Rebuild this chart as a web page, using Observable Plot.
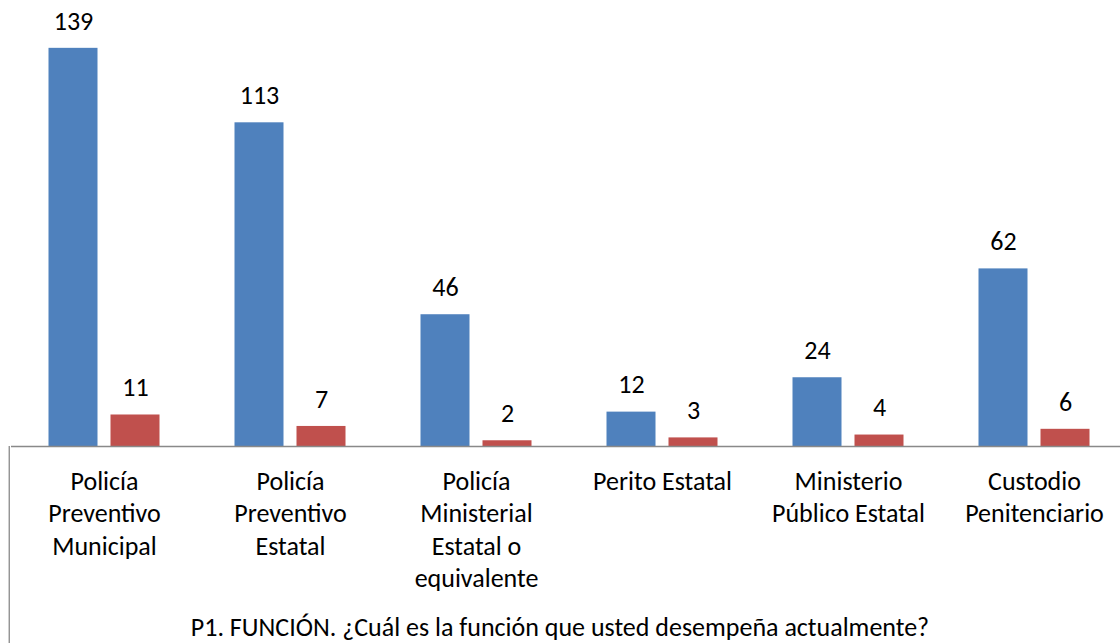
<!DOCTYPE html>
<html>
<head>
<meta charset="utf-8">
<script src="https://cdn.jsdelivr.net/npm/d3@7"></script>
<script src="https://cdn.jsdelivr.net/npm/@observablehq/plot@0.6"></script>
<style>
  html, body { margin: 0; padding: 0; background: #fff; }
  #chart svg { display: block; }
</style>
</head>
<body>
<div id="chart"></div>
<script>
const categories = [
  "Policía\nPreventivo\nMunicipal",
  "Policía\nPreventivo\nEstatal",
  "Policía\nMinisterial\nEstatal o\nequivalente",
  "Perito Estatal",
  "Ministerio\nPúblico Estatal",
  "Custodio\nPenitenciario"
];
const seriesNames = ["Serie 1", "Serie 2"];
const serie1 = [139, 113, 46, 12, 24, 62];
const serie2 = [11, 7, 2, 3, 4, 6];
const caption = "P1. FUNCIÓN. ¿Cuál es la función que usted desempeña actualmente?";

const data = [];
categories.forEach((c, i) => {
  data.push({cat: c, series: seriesNames[0], value: serie1[i]});
  data.push({cat: c, series: seriesNames[1], value: serie2[i]});
});

const W = 1120, H = 643;
const marginLeft = 8.5, marginRight = -8.5, marginTop = 2, marginBottom = 197;
const font = "Carlito, Calibri, Lato, sans-serif";
const fs = 26;

const chart = Plot.plot({
  width: W,
  height: H,
  marginLeft, marginRight, marginTop, marginBottom,
  style: {fontFamily: font, fontSize: fs + "px", color: "#000", background: "#fff", overflow: "visible"},
  fx: {domain: categories, padding: 0, axis: null},
  x: {domain: seriesNames, paddingInner: 0.208, paddingOuter: 0.596, axis: null},
  y: {domain: [0, 155], axis: null},
  color: {domain: seriesNames, range: ["#4F81BD", "#C0504D"]},
  marks: [
    Plot.barY(data, {fx: "cat", x: "series", y: "value", fill: "series"}),
    Plot.ruleY([0], {stroke: "#898989", strokeWidth: 1.3}),
    Plot.text(data, {fx: "cat", x: "series", y: "value", text: d => String(d.value), dy: -27, fill: "#000", fontSize: fs}),
    Plot.text(categories, {fx: d => d, text: d => d, frameAnchor: "bottom", lineAnchor: "top", dy: 20, lineHeight: 1.25, fill: "#000", fontSize: fs})
  ]
});

document.getElementById("chart").appendChild(chart);

const svg = d3.select(chart);
svg.append("line")
  .attr("x1", 9.25).attr("x2", 9.25)
  .attr("y1", H - marginBottom).attr("y2", H)
  .attr("stroke", "#898989").attr("stroke-width", 1.3);
svg.append("text")
  .attr("x", W / 2).attr("y", 627)
  .attr("text-anchor", "middle").attr("dominant-baseline", "central")
  .attr("font-family", font).attr("font-size", fs).attr("fill", "#000")
  .text(caption);
</script>
</body>
</html>
